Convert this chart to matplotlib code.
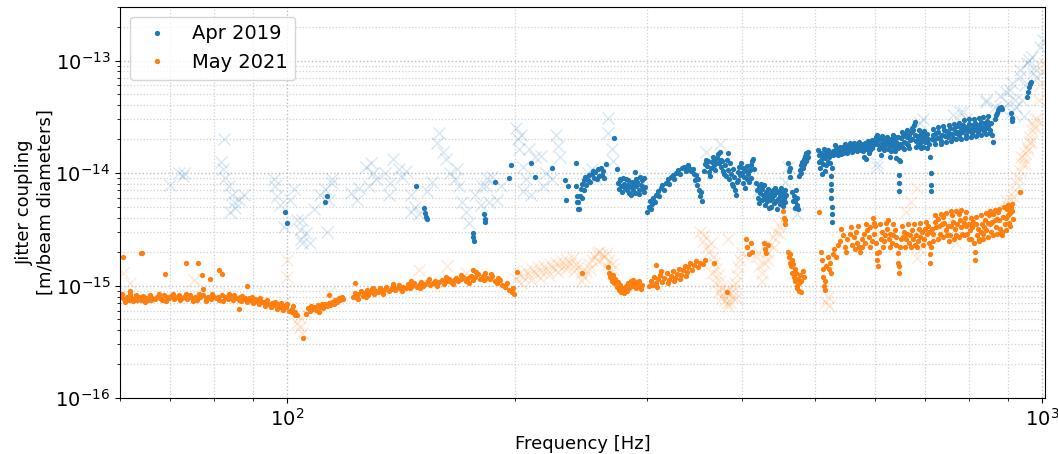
"""
Jitter coupling measured in Apr 2019 and May 2021, log-log plot.
Dots: points that passed the coherence cut, faint crosses: points that did not.
"""

import matplotlib.pyplot as plt
import numpy as np
from matplotlib.ticker import NullFormatter

UNIT = 1e-15  # coupling values below are in units of 1e-15 m/beam diameter

# (frequency [Hz], coupling [1e-15 m/beam diameter])
apr2019_dots = [
    (99.4, 4.55), (100.0, 3.63), (112.3, 5.5), (113.0, 6.2), (148.0, 7.6),
    (151.5, 4.9), (152.0, 4.4), (152.5, 4.1), (153.0, 3.9), (176.0, 2.96),
    (176.3, 2.7), (176.6, 2.5), (182.0, 4.3), (182.5, 3.9), (183.0, 3.7),
    (188.6, 8.4), (196.5, 9.1), (198.0, 11.7), (210.6, 12.4), (213.0, 9.3),
    (224.0, 11.2), (233.4, 8.6), (235.5, 7.6), (234.0, 5.8), (241.0, 12.4),
    (241.5, 7.6), (242.0, 6.2), (242.3, 5.5), (242.6, 4.75),
    # 243-264 Hz
    (243, 5.5), (243.5, 4.8), (244, 6.3), (245, 7.2), (245.5, 6.0), (246, 8.0),
    (247, 7.0), (247.5, 8.6), (248, 9.3), (249, 7.8), (250, 8.6), (251, 9.7),
    (252, 8.3), (253, 9.8), (254, 10.5), (255, 9.0), (256, 10.2), (257, 8.8),
    (258, 10.8), (259, 9.5), (260, 11.0), (261, 9.6), (262, 10.4), (263, 9.0),
    (264, 12.0), (271, 20.3), (273, 10.8),
    # 274-298 Hz
    (274, 8.2), (275, 7.2), (276, 8.6), (277, 7.6), (278, 6.8), (279, 8.0),
    (280, 7.3), (281, 8.8), (282, 7.0), (283, 7.8), (284, 6.6), (285, 7.5),
    (286, 8.4), (287, 7.1), (288, 7.9), (289, 6.7), (290, 7.6), (291, 8.3),
    (292, 7.0), (293, 9.2), (294, 7.8), (295, 8.6), (296, 7.2), (297, 6.8),
    (298, 7.5), (288.5, 10.3), (275.5, 8.9), (278.5, 9.0), (282.5, 8.6),
    (285.5, 6.4), (289.5, 8.9), (292.5, 6.5), (296.5, 9.0),
    # 300-354 Hz
    (300, 4.5), (301, 5.0), (302, 5.6), (303, 4.8), (304, 5.3), (305, 6.0),
    (307, 5.5), (308, 6.4), (310, 6.9), (311, 6.2), (313, 7.3), (314, 7.9),
    (316, 7.0), (317, 8.2), (319, 8.8), (320, 8.0), (322, 9.2), (324, 9.7),
    (325, 8.8), (327, 10.1), (329, 10.6), (331, 9.8), (333, 11.0), (335, 11.4),
    (337, 10.5), (339, 11.8), (341, 11.0), (343, 10.4), (345, 10.8), (346, 9.8),
    (347, 8.6), (348, 9.6), (349, 7.8), (350, 8.8), (351, 7.0), (352, 6.2),
    (353, 6.8), (354, 5.7),
    # 357-380 Hz
    (357, 10.5), (358, 12.0), (359, 13.0), (360, 11.5), (361, 12.8), (362, 10.2),
    (363, 9.4), (364, 11.2), (365, 12.6), (366, 14.0), (367, 13.2), (368, 11.8),
    (369, 10.6), (370, 12.4), (371, 13.6), (372, 14.8), (373, 12.2), (374, 15.5),
    (375, 13.0), (376, 11.4), (377, 12.8), (378, 10.4), (379, 9.8),
    # 380-415 Hz
    (380, 11.8), (381, 9.4), (382, 13.0), (383, 15.0), (384, 10.6), (385, 8.8),
    (386, 12.2), (387, 9.8), (388, 8.0), (389, 10.8), (390, 7.6), (391, 9.2),
    (392, 7.0), (393, 6.4), (394, 8.4), (395, 10.2), (396, 8.6), (397, 11.4),
    (398, 9.6), (399, 12.2), (400, 10.0), (401, 8.2), (402, 11.0), (403, 9.2),
    (404, 7.4), (405, 10.4), (406, 8.8), (407, 11.6), (408, 9.8), (409, 8.4),
    (410, 10.6), (411, 9.0), (412, 11.8), (413, 12.8), (414, 13.2), (415, 10.8),
    # 418-465 Hz
    (418, 8.2), (419, 7.0), (420, 6.0), (421, 7.6), (422, 5.4), (423, 6.6),
    (424, 8.0), (425, 5.8), (426, 7.2), (427, 6.4), (428, 7.8), (429, 6.0),
    (430, 5.2), (431, 6.8), (432, 5.6), (433, 7.2), (434, 6.2), (435, 4.9),
    (436, 5.8), (437, 6.6), (438, 5.0), (439, 6.0), (440, 7.0), (441, 5.4),
    (442, 6.4), (443, 7.4), (444, 5.6), (445, 6.8), (446, 4.8), (447, 5.9),
    (448, 6.9), (449, 5.3), (450, 6.2), (451, 7.3), (452, 5.7), (453, 6.6),
    (454, 5.1), (455, 6.0), (456, 7.0), (457, 5.5), (458, 6.4),
    (461, 12.4), (462, 10.5), (463, 9.2), (464, 11.0),
    (467, 6.8), (468, 5.6), (469, 6.2), (470, 4.9), (471, 5.6), (472, 7.0),
    (473, 5.2), (474, 6.0), (475, 4.8),
    (477, 9.4), (478, 10.6), (479, 11.8), (480, 10.0), (481, 12.6), (482, 11.2),
    (483, 13.4), (484, 12.0), (485, 14.2), (486, 12.8), (487, 15.0), (488, 13.6),
    (489, 15.5), (490, 14.0),
    # 505-528 Hz
    (505, 16.0), (506, 12.5), (507, 14.6), (508, 11.0), (509, 15.2), (510, 13.0),
    (511, 9.8), (512, 14.2), (513, 12.0), (514, 16.5), (515, 10.5), (516, 13.6),
    (517, 15.0), (518, 11.8), (519, 14.4), (520, 12.6), (521, 16.0), (522, 13.8),
    (523, 15.2), (524, 12.2), (525, 9.5), (525.2, 8.0), (525.5, 7.0), (526, 6.0),
    (526.2, 5.0), (526.5, 4.3), (527, 3.7), (527.5, 11.0), (528, 14.6),
    # 529-600 Hz
    (529, 15.6), (531, 14.8), (533, 16.4), (535, 15.2), (537, 16.8), (539, 15.8),
    (541, 14.9), (543, 16.6), (545, 17.2), (547, 15.6), (549, 16.4), (551, 17.4),
    (553, 15.9), (555, 16.8), (557, 17.8), (559, 16.2), (561, 17.2), (563, 16.0),
    (565, 17.6), (567, 18.2), (569, 16.6), (571, 17.4), (573, 16.2), (575, 18.0),
    (577, 17.0), (579, 15.8), (581, 17.6), (583, 18.6), (585, 17.2), (587, 16.4),
    (589, 18.0), (591, 17.2), (593, 19.0), (595, 16.8), (597, 17.8), (599, 18.6),
    (580, 14.0), (585, 13.4), (590, 15.0),
    (532, 17.8), (536, 14.4), (540, 17.0), (544, 15.0), (548, 18.0), (552, 15.2),
    (556, 18.4), (560, 15.4), (564, 18.6), (568, 15.6), (572, 18.8), (576, 16.0),
    (584, 16.2), (588, 19.4), (592, 16.0), (596, 19.6),
    # 600-648 Hz
    (601, 19.5), (603, 21.0), (605, 18.0), (607, 19.8), (609, 17.2), (611, 20.4),
    (613, 18.6), (615, 16.8), (617, 19.2), (619, 17.8), (621, 20.0), (623, 18.4),
    (625, 16.4), (627, 19.0), (629, 17.4), (631, 20.2), (633, 18.0), (635, 19.4),
    (637, 17.0), (639, 20.8), (641, 18.8), (643, 17.6), (645, 16.8), (646, 13.0),
    (646.3, 9.7), (646.6, 8.2), (647, 6.9), (647.5, 12.7), (612, 14.4), (628, 14.0),
    (640, 13.6), (604, 22.0), (608, 16.2), (614, 21.5), (618, 16.0), (624, 21.0),
    (630, 15.8), (634, 21.8), (638, 15.6), (644, 21.0),
    # 648-713 Hz
    (649, 18.0), (651, 20.5), (653, 17.2), (655, 21.5), (657, 19.0), (659, 22.4),
    (661, 18.4), (663, 20.8), (665, 17.6), (667, 21.8), (669, 19.6), (671, 23.0),
    (673, 20.2), (675, 24.0), (677, 26.5), (678, 28.7), (679, 22.0), (681, 19.4),
    (683, 21.2), (685, 17.8), (687, 20.6), (689, 18.6), (691, 22.2), (693, 19.8),
    (695, 17.0), (697, 20.8), (699, 18.8), (701, 21.6), (703, 19.2), (705, 22.4),
    (707, 20.0), (709, 18.0), (711, 14.0), (712, 10.1), (712.5, 7.9), (713, 6.9),
    (652, 23.0), (656, 16.4), (662, 24.0), (666, 16.8), (672, 25.0), (680, 17.2),
    (686, 24.0), (692, 16.6), (698, 23.6), (704, 16.8),
    # 714-860 Hz
    (714, 20.2), (717, 21.8), (720, 19.6), (723, 22.6), (726, 20.4), (729, 23.2),
    (732, 21.0), (735, 19.2), (738, 22.0), (741, 24.0), (744, 21.4), (747, 23.6),
    (750, 20.8), (753, 22.8), (756, 25.0), (759, 22.2), (762, 20.4), (765, 24.4),
    (768, 22.6), (771, 26.0), (774, 23.4), (777, 21.6), (780, 25.2), (783, 23.0),
    (786, 27.0), (789, 24.2), (792, 22.0), (795, 25.8), (798, 23.6), (801, 27.4),
    (804, 24.8), (807, 22.8), (810, 26.6), (813, 24.0), (816, 28.0), (819, 25.4),
    (822, 23.2), (825, 27.0), (828, 24.6), (831, 28.6), (834, 25.8), (837, 23.8),
    (840, 27.6), (843, 25.0), (846, 29.0), (849, 26.2), (852, 24.2), (855, 27.8),
    (858, 22.0), (860, 19.0),
    (716, 24.5), (722, 18.0), (728, 25.5), (734, 18.2), (740, 26.0), (746, 19.0),
    (752, 26.5), (758, 19.4), (764, 27.5), (770, 20.0), (776, 28.0), (782, 20.2),
    (788, 29.5), (794, 20.6), (800, 30.0), (806, 21.0), (812, 30.0), (818, 21.4),
    (824, 31.0), (830, 22.0), (836, 31.5), (842, 22.4), (848, 32.0), (854, 22.6),
    # above 860 Hz
    (866, 30.0), (869, 32.5), (872, 34.0), (875, 36.0), (878, 38.0), (881, 39.0),
    (884, 37.0), (910, 34.0), (912, 31.0), (913, 29.0),
    (955, 47.0), (958, 52.0), (962, 58.0), (965, 62.0), (968, 65.0),
]

apr2019_crosses = [
    (69.9, 7.9), (71.9, 10.1), (73.0, 10.1), (72.8, 9.5), (82.5, 19.9),
    (81.7, 12.6), (82.2, 10.8), (82.7, 9.1), (83.8, 7.6), (84.5, 6.4),
    (85.0, 5.5), (84.0, 4.5), (86.4, 5.8), (85.3, 4.9), (87.5, 6.4),
    (96.1, 8.8), (96.4, 7.6), (97.0, 6.2), (97.9, 5.25), (100.9, 5.8),
    (102.0, 7.2), (103.1, 3.86), (104.0, 3.15), (104.7, 2.4), (99.1, 3.35),
    (104.7, 3.86), (106.0, 2.96), (107.0, 2.4), (104.3, 2.6), (108.5, 4.75),
    (110.3, 6.4), (112.0, 7.2), (113.6, 5.8), (114.7, 8.2), (112.8, 3.0),
    (114.7, 8.8), (121.6, 6.7), (123.5, 5.8), (124.6, 7.4), (127.2, 11.4),
    (129.0, 12.4), (130.0, 10.1), (131.0, 8.8), (128.3, 7.6), (134.5, 10.1),
    (136.6, 8.2), (138.0, 13.2), (140.7, 10.8), (142.0, 9.3), (136.2, 6.4),
    (143.4, 10.4), (146.0, 6.4), (147.7, 5.0), (146.0, 4.5), (149.2, 4.3),
    (153.0, 6.9), (155.6, 8.4), (159.0, 22.7), (157.8, 18.6), (160.8, 15.5),
    (162.0, 13.2), (164.0, 10.1), (166.6, 8.8), (169.0, 7.6), (167.6, 10.8),
    (170.5, 5.5), (172.6, 4.5), (174.1, 3.6), (177.5, 6.4), (181.0, 7.6),
    (184.0, 9.1), (180.4, 5.2), (183.5, 7.6), (186.7, 9.3), (189.6, 5.8),
    (192.0, 7.6), (185.0, 5.5), (201.0, 25.0), (202.0, 19.9), (203.0, 16.2),
    (204.0, 22.0), (205.0, 11.4), (207.0, 8.8), (208.9, 16.2), (213.0, 13.8),
    (217.0, 14.3), (220.0, 10.1), (224.0, 8.8), (227.0, 22.0), (228.0, 17.3),
    (230.0, 13.8), (205.0, 6.9), (210.0, 6.4), (218.0, 7.6), (250.0, 10.1),
    (253.5, 10.8), (256.5, 8.8), (265.6, 31.0), (266.0, 22.7), (269.0, 16.2),
    (270.0, 12.7),
    # along the main band
    (359, 15.5), (374, 18.0), (420, 6.9), (460, 11.4), (473, 4.3),
    (604, 11.4), (604, 12.4), (457, 8.4), (689, 28.0),
    # high frequency
    (695, 30.0), (762, 33.0), (778, 35.0), (786, 35.0), (793, 30.0),
    (843, 45.0), (843, 43.0), (866, 39.0), (879, 48.0), (886, 37.0),
    (895, 52.0), (906, 55.0), (913, 63.0), (913, 35.0), (925, 39.0),
    (935, 83.0), (935, 72.0), (940, 45.0), (945, 32.0), (955, 96.0),
    (962, 102.0), (970, 108.0), (973, 78.0), (975, 85.0), (993, 133.0),
    (1003, 153.0), (985, 70.0), (950, 60.0), (920, 45.0), (900, 42.0),
]

may2021_dots = [
    # 60-103 Hz
    (60.4, 0.84), (60.7, 0.76), (61.0, 0.72), (61.3, 0.80), (61.7, 0.74),
    (62.0, 0.78), (62.4, 0.73), (62.8, 0.77), (63.2, 0.75), (63.6, 0.79),
    (64.0, 0.74), (64.4, 0.81), (64.9, 0.77), (65.3, 0.75), (65.8, 0.82),
    (66.2, 0.78), (66.7, 0.76), (67.2, 0.80), (67.7, 0.78), (68.2, 0.75),
    (68.7, 0.82), (69.2, 0.79), (69.7, 0.77), (70.2, 0.81), (70.8, 0.76),
    (71.3, 0.79), (71.9, 0.83), (72.4, 0.77), (73.0, 0.80), (73.6, 0.76),
    (74.2, 0.82), (74.8, 0.78), (75.4, 0.80), (76.0, 0.75), (76.6, 0.79),
    (77.2, 0.83), (77.9, 0.77), (78.5, 0.80), (79.1, 0.76), (79.8, 0.81),
    (80.5, 0.78), (81.2, 0.75), (81.9, 0.82), (82.6, 0.79), (83.3, 0.76),
    (84.0, 0.80), (84.7, 0.74), (85.4, 0.78), (86.2, 0.75), (86.9, 0.73),
    (87.7, 0.76), (88.5, 0.71), (89.3, 0.74), (90.1, 0.70), (90.9, 0.73),
    (91.7, 0.68), (92.5, 0.71), (93.3, 0.66), (94.2, 0.69), (95.0, 0.64),
    (95.9, 0.67), (96.8, 0.62), (97.7, 0.65), (98.6, 0.61), (99.5, 0.64),
    (100.4, 0.60), (101.3, 0.62), (102.2, 0.58), (103.0, 0.55),
    (60.2, 0.79), (61.9, 0.85), (63.0, 0.82), (64.7, 0.72), (66.0, 0.74),
    (67.5, 0.84), (69.0, 0.73), (70.5, 0.85), (72.0, 0.74), (73.3, 0.84),
    (75.0, 0.73), (76.3, 0.85), (78.0, 0.73), (79.5, 0.84), (81.0, 0.80),
    (82.2, 0.73), (83.8, 0.84), (85.0, 0.82), (86.5, 0.79), (87.0, 0.81),
    (88.0, 0.78), (89.0, 0.77), (89.8, 0.80), (90.5, 0.76), (91.2, 0.74),
    (92.0, 0.77), (93.0, 0.72), (94.0, 0.74), (95.5, 0.70), (96.3, 0.72),
    (97.2, 0.68), (98.1, 0.70), (99.0, 0.66), (100.0, 0.68), (101.8, 0.66),
    (60.6, 1.81), (63.9, 1.96), (64.2, 1.93), (68.9, 1.28), (73.5, 1.60),
    (76.2, 1.60), (77.1, 1.23), (79.0, 1.15), (81.2, 1.39), (82.0, 1.28),
    (77.3, 0.94), (88.5, 1.0), (86.4, 0.62), (61.9, 0.90),
    # dip near 105 Hz
    (101.5, 0.58), (102.5, 0.55), (105.0, 0.34), (106.0, 0.56),
    # 106-118 Hz
    (106.5, 0.63), (107.0, 0.60), (107.5, 0.66), (108.0, 0.62), (108.6, 0.65),
    (109.2, 0.61), (109.8, 0.67), (110.4, 0.64), (111.0, 0.68), (111.6, 0.63),
    (112.2, 0.69), (112.8, 0.66), (113.4, 0.70), (114.0, 0.67), (114.6, 0.72),
    (115.2, 0.69), (115.8, 0.75), (116.4, 0.72), (117.0, 0.78), (117.5, 0.74),
    (118.0, 0.80), (118.4, 0.76), (110.0, 0.58), (113.6, 0.83),
    # 122-200 Hz
    (122.0, 0.80), (122.8, 0.86), (123.5, 0.78), (124.2, 0.84), (125.0, 0.89),
    (125.8, 0.81), (126.5, 0.86), (127.3, 0.92), (128.0, 0.83), (128.8, 0.88),
    (129.6, 0.94), (130.4, 0.85), (131.2, 0.90), (132.0, 0.87), (132.8, 0.95),
    (133.6, 0.88), (134.4, 0.92), (135.3, 0.97), (136.2, 0.89), (137.0, 0.94),
    (137.9, 0.99), (138.8, 0.91), (139.7, 0.96), (140.6, 1.01), (141.5, 0.93),
    (142.4, 0.98), (143.4, 0.95), (144.3, 1.03), (145.3, 0.96), (146.3, 1.00),
    (147.3, 1.05), (148.3, 0.97), (149.3, 1.02), (150.3, 1.07), (151.4, 0.99),
    (152.4, 1.04), (153.5, 1.09), (154.6, 1.01), (155.7, 1.06), (156.8, 1.11),
    (157.9, 1.03), (159.0, 1.08), (160.2, 1.13), (161.3, 1.04), (162.5, 1.10),
    (163.7, 1.15), (164.9, 1.07), (166.1, 1.12), (167.3, 1.17), (168.5, 1.09),
    (169.8, 1.14), (171.0, 1.20), (172.3, 1.11), (173.6, 1.16), (174.9, 1.22),
    (176.2, 1.13), (177.5, 1.19), (178.8, 1.26), (180.1, 1.15), (181.4, 1.22),
    (182.8, 1.30), (184.1, 1.18), (185.5, 1.14), (186.9, 1.22), (188.3, 1.10),
    (189.7, 1.06), (191.1, 1.13), (192.5, 1.02), (194.0, 0.98), (195.4, 1.05),
    (196.9, 0.92), (198.4, 0.88), (199.0, 0.96), (199.6, 0.84), (123.0, 1.06),
    (176.0, 1.39), (201.5, 1.33), (246.0, 1.30),
    (124, 0.76), (127, 0.80), (130, 0.95), (134, 0.84), (138, 1.04), (142, 0.90),
    (146, 1.10), (150, 0.95), (154, 1.15), (158, 0.99), (162, 1.20), (166, 1.03),
    (170, 1.25), (174, 1.06), (178, 1.32), (182, 1.12), (186, 1.28), (190, 1.18),
    # 266-300 Hz
    (266, 1.45), (267, 1.30), (268, 1.20), (269, 1.10), (270, 1.25), (271, 1.05),
    (272, 1.15), (273, 0.98), (274, 1.08), (275, 0.92), (276, 1.02), (277, 0.88),
    (278, 0.95), (279, 0.86), (280, 0.92), (281, 1.00), (282, 0.90), (283, 1.05),
    (284, 0.95), (285, 1.10), (286, 1.00), (287, 1.12), (288, 1.02), (289, 1.08),
    (290, 0.96), (291, 1.04), (292, 1.10), (293, 0.98), (294, 0.94), (295, 1.02),
    # 300-368 Hz
    (301, 1.00), (303, 1.10), (305, 1.02), (306, 1.20), (308, 1.05), (309, 0.98),
    (310, 1.15), (312, 1.25), (313, 1.35), (314, 1.08), (316, 1.18), (318, 1.30),
    (319, 1.05), (320, 1.12), (322, 1.22), (324, 1.35), (325, 1.10), (326, 1.18),
    (328, 1.28), (330, 1.40), (331, 1.15), (332, 1.25), (334, 1.38), (336, 1.50),
    (337, 1.22), (338, 1.32), (340, 1.45), (342, 1.58), (344, 1.38), (346, 1.52),
    (348, 1.65), (350, 1.45), (352, 1.60), (355, 1.55), (358, 1.70), (308, 1.54),
    (367, 1.60), (382, 0.88),
    # 405-485 Hz
    (405, 2.6), (407, 2.2), (409, 1.9), (411, 2.4), (413, 2.0), (428, 2.4),
    (430, 2.1), (431, 1.95), (433, 2.3), (453, 4.6), (455, 4.0), (456, 3.5),
    (457, 3.8), (461, 2.0), (462, 1.8), (463, 1.6), (464, 1.9), (465, 1.5),
    (466, 1.7), (467, 1.3), (468, 1.55), (469, 1.2), (470, 1.4), (471, 1.1),
    (472, 1.3), (473, 1.0), (474, 0.95), (475, 1.15), (476, 0.90), (477, 1.05),
    (478, 1.25), (479, 0.88), (480, 1.10), (482, 1.35), (484, 1.2),
    # 505-560 Hz
    (507, 4.5), (510, 2.0), (511, 1.7), (512, 1.4), (513, 1.2), (514, 1.0),
    (515, 0.92), (516, 1.1), (518, 1.5), (520, 1.8), (522, 1.4), (524, 1.6),
    (526, 1.3), (528, 1.9), (530, 2.1), (533, 1.8), (536, 2.3), (540, 2.5),
    (545, 2.8), (548, 2.2), (552, 2.6), (556, 2.9), (560, 2.3),
    # 560-915 Hz
    (563, 2.7), (566, 3.0), (569, 2.4), (572, 2.2), (574, 2.0), (577, 2.6),
    (580, 2.9), (583, 2.4), (586, 3.1), (589, 2.7), (592, 3.3), (595, 2.5),
    (597, 4.0), (599, 2.9), (601, 3.4), (603, 2.4), (604, 1.96), (605, 1.7),
    (606, 1.5), (608, 2.0), (611, 2.6), (614, 3.0), (617, 2.5), (620, 2.8),
    (623, 3.2), (625, 3.86), (626, 2.6), (629, 2.9), (632, 2.4), (635, 2.8),
    (638, 3.1), (641, 2.7), (644, 1.96), (645, 1.6), (646, 1.3), (647, 1.5),
    (649, 2.2), (651, 2.6), (654, 2.7), (657, 3.0), (660, 2.6), (663, 2.9),
    (666, 2.4), (669, 2.8), (672, 3.1), (675, 2.6), (678, 2.3), (681, 2.8),
    (684, 2.5), (687, 3.2), (690, 2.7), (694, 3.0), (697, 2.6), (700, 3.2),
    (703, 2.9), (706, 3.4), (709, 2.4), (710, 1.9), (711, 1.6), (712, 2.2),
    (715, 3.2), (718, 2.9), (721, 3.7), (724, 3.3), (727, 3.9), (730, 3.4),
    (733, 2.9), (736, 3.5), (739, 4.1), (742, 3.6), (745, 3.1), (748, 2.8),
    (751, 3.4), (754, 2.8), (757, 3.4), (760, 4.2), (763, 3.7), (766, 3.2),
    (769, 2.8), (772, 3.5), (775, 4.3), (778, 3.8), (781, 3.3), (784, 2.9),
    (787, 3.6), (790, 4.0), (793, 3.4), (796, 2.9), (799, 3.5), (802, 3.1),
    (805, 2.6), (808, 3.3), (811, 3.7), (813, 2.4), (814, 2.0), (815, 1.7),
    (817, 3.5), (820, 2.8), (823, 3.2), (826, 2.6), (829, 3.0), (832, 3.5),
    (835, 2.9), (838, 3.3), (841, 3.8), (844, 3.1), (847, 3.6), (850, 4.2),
    (853, 3.5), (856, 3.0), (859, 3.7), (862, 4.3), (865, 3.8), (868, 3.3),
    (871, 3.9), (874, 4.5), (877, 3.8), (880, 3.2), (883, 2.9), (886, 3.0),
    (889, 4.1), (892, 3.5), (895, 4.0), (898, 4.8), (901, 4.2), (904, 3.6),
    (906, 4.4), (909, 5.0), (912, 4.6), (915, 3.9), (934, 6.8),
    (542, 3.2), (550, 2.0), (558, 3.3), (565, 2.1), (571, 3.4), (578, 2.2),
    (585, 3.5), (591, 2.2), (598, 3.6), (610, 3.5), (616, 2.2), (622, 3.6),
    (628, 2.2), (634, 3.5), (640, 2.3), (652, 3.4), (658, 2.2), (664, 3.5),
    (670, 2.2), (676, 3.5), (683, 2.2), (689, 3.6), (695, 2.3), (702, 3.7),
    (708, 3.0), (716, 2.5), (722, 4.2), (728, 2.6), (734, 4.3), (740, 2.7),
    (746, 4.4), (752, 2.5), (758, 4.6), (764, 2.6), (770, 4.6), (776, 2.7),
    (782, 4.7), (788, 2.8), (794, 4.5), (800, 2.6), (806, 4.0), (818, 4.1),
    (824, 2.5), (830, 4.2), (836, 2.6), (842, 4.4), (848, 2.7), (854, 4.6),
    (860, 2.8), (866, 4.7), (872, 2.9), (878, 4.8), (884, 2.8), (890, 5.0),
    (896, 3.1), (902, 5.2), (908, 3.4), (913, 5.3),
]

may2021_crosses = [
    (60.6, 1.30), (61.9, 1.06), (75.2, 1.13), (100.0, 1.70), (100.0, 1.2),
    (103.7, 0.53), (104.0, 0.43), (104.7, 0.38), (103.1, 0.47), (99.1, 0.72),
    (149.6, 1.39), (162.5, 1.48), (172.6, 1.30), (113.6, 0.87), (106.0, 0.57),
    # 200-270 Hz
    (201, 1.15), (203, 1.28), (205, 1.20), (207, 1.35), (209, 1.25), (211, 1.40),
    (213, 1.30), (215, 1.45), (217, 1.33), (219, 1.50), (221, 1.38), (223, 1.55),
    (225, 1.42), (227, 1.60), (229, 1.48), (231, 1.65), (233, 1.52), (235, 1.70),
    (237, 1.58), (239, 1.75), (241, 1.55), (243, 1.45), (245, 1.30), (247, 1.20),
    (249, 1.35), (251, 1.55), (253, 1.70), (255, 1.85), (257, 1.95), (259, 2.00),
    (261, 1.90), (263, 1.80), (265, 1.95), (267, 1.70), (269, 1.55), (204, 1.05),
    (210, 1.12), (216, 1.18), (222, 1.25), (228, 1.32), (234, 1.40), (240, 1.35),
    (246, 1.10), (252, 1.40), (258, 1.65), (264, 1.50), (270, 1.40),
    # 350-455 Hz
    (352, 3.0), (355, 2.5), (357, 2.8), (360, 2.2), (362, 2.0), (364, 2.4),
    (366, 1.8), (368, 1.6), (370, 1.4), (372, 1.25), (374, 1.1), (376, 0.95),
    (378, 0.85), (380, 0.75), (382, 0.70), (384, 0.66), (386, 0.72), (388, 0.80),
    (390, 0.90), (392, 1.05), (394, 1.25), (396, 1.45), (398, 1.70), (400, 1.95),
    (365, 1.3), (369, 1.05), (373, 0.88), (377, 0.78), (381, 0.92), (385, 0.85),
    (389, 1.0), (393, 0.78), (383, 2.6), (418, 1.8), (422, 1.5), (425, 1.3),
    (428, 1.6), (432, 2.0), (436, 2.3), (440, 2.7), (444, 3.0), (448, 3.4),
    (452, 3.8), (420, 2.0), (426, 1.1), (434, 1.7), (442, 2.2), (450, 2.9),
    # 510-900 Hz
    (518, 0.71), (520, 0.80), (522, 0.66), (561, 2.7), (610, 2.96), (660, 4.5),
    (670, 5.5), (682, 7.4), (689, 2.1), (682, 1.77), (725, 4.1), (738, 3.15),
    (755, 3.86), (770, 2.4), (866, 2.96), (879, 3.86), (886, 5.0), (895, 5.8),
    # rising above 900 Hz
    (905, 5.0), (910, 5.8), (915, 6.3), (920, 7.0), (925, 8.2), (930, 9.0),
    (935, 10.5), (940, 12.0), (945, 13.5), (950, 15.0), (955, 17.0), (960, 19.0),
    (965, 21.0), (970, 24.0), (975, 27.0), (980, 25.0), (985, 30.0), (990, 45.0),
    (995, 60.0), (1000, 80.0), (1005, 95.0), (938, 14.0), (948, 12.0), (958, 16.0),
    (968, 19.0), (978, 30.0),
]

blue = '#1f77b4'
orange = '#ff7f0e'

series = [
    ('Apr 2019', blue, apr2019_dots, apr2019_crosses),
    ('May 2021', orange, may2021_dots, may2021_crosses),
]

plt.rcParams['font.family'] = ['DejaVu Sans']
fig, ax = plt.subplots(figsize=(10.58, 4.54), dpi=100)
fig.subplots_adjust(left=0.1134, right=0.988, top=0.985, bottom=0.123)

for name, color, dots, crosses in series:
    cf, cv = np.array(crosses).T
    ax.plot(cf, cv * UNIT, 'x', color=color, ms=8, alpha=0.17)
for name, color, dots, crosses in series:
    df, dv = np.array(dots).T
    ax.plot(df, dv * UNIT, 'o', color=color, ms=3.8, mew=0, label=name)

ax.set_xscale('log')
ax.set_yscale('log')
ax.set_xlim(60, 1010)
ax.set_ylim(1e-16, 3e-13)
ax.set_xticks([100, 1000])
ax.set_yticks([1e-16, 1e-15, 1e-14, 1e-13])
ax.xaxis.set_minor_formatter(NullFormatter())
ax.yaxis.set_minor_formatter(NullFormatter())
ax.grid(True, which='major', linestyle=':', color='0.75', linewidth=1.0)
ax.grid(True, which='minor', linestyle=':', color='0.82', linewidth=0.9)
ax.tick_params(labelsize=14)
ax.set_xlabel('Frequency [Hz]', fontsize=13)
ax.set_ylabel('Jitter coupling\n[m/beam diameters]', fontsize=13)
ax.yaxis.set_label_coords(-0.071, 0.5)
ax.legend(loc='upper left', fontsize=14)

fig.savefig('out.png', dpi=100)
